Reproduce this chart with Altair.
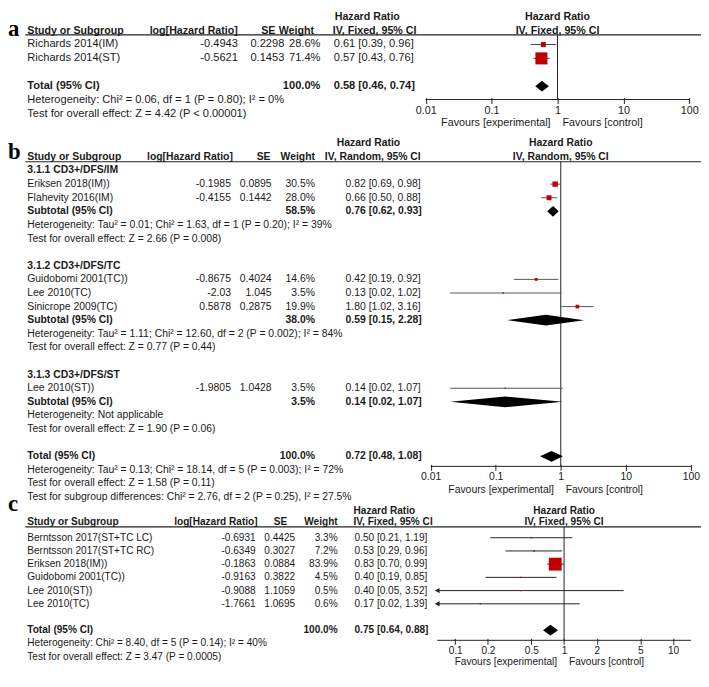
import altair as alt
import pandas as pd

# ---------------- data: panel a ----------------
A_STUDY = ["Richards 2014(IM)", "Richards 2014(ST)"]
A_LOGHR = ["-0.4943", "-0.5621"]
A_SE = ["0.2298", "0.1453"]
A_WEIGHT = [28.6, 71.4]
A_HR = [0.61, 0.57]
A_LO = [0.39, 0.43]
A_HI = [0.96, 0.76]
A_TOTAL_W = 100.0
A_TOTAL_CI = [0.58, 0.46, 0.74]
A_NOTES = ["Heterogeneity: Chi² = 0.06, df = 1 (P = 0.80); I² = 0%",
           "Test for overall effect: Z = 4.42 (P < 0.00001)"]
A_METHOD = "IV, Fixed, 95% CI"
A_TICKS = [0.01, 0.1, 1, 10, 100]

# ---------------- data: panel b ----------------
B_GROUPS = ["3.1.1 CD3+/DFS/IM", "3.1.2 CD3+/DFS/TC", "3.1.3 CD3+/DFS/ST"]
B_GROUP_OF = [0, 0, 1, 1, 1, 2]
B_STUDY = ["Eriksen 2018(IM))", "Flahevity 2016(IM)", "Guidobomi 2001(TC))",
           "Lee 2010(TC)", "Sinicrope 2009(TC)", "Lee 2010(ST))"]
B_LOGHR = ["-0.1985", "-0.4155", "-0.8675", "-2.03", "0.5878", "-1.9805"]
B_SE = ["0.0895", "0.1442", "0.4024", "1.045", "0.2875", "1.0428"]
B_WEIGHT = [30.5, 28.0, 14.6, 3.5, 19.9, 3.5]
B_HR = [0.82, 0.66, 0.42, 0.13, 1.80, 0.14]
B_LO = [0.69, 0.50, 0.19, 0.02, 1.02, 0.02]
B_HI = [0.98, 0.88, 0.92, 1.02, 3.16, 1.07]
B_SUB_W = [58.5, 38.0, 3.5]
B_SUB_HR = [0.76, 0.59, 0.14]
B_SUB_LO = [0.62, 0.15, 0.02]
B_SUB_HI = [0.93, 2.28, 1.07]
B_SUB_NOTES = [
    ["Heterogeneity: Tau² = 0.01; Chi² = 1.63, df = 1 (P = 0.20); I² = 39%",
     "Test for overall effect: Z = 2.66 (P = 0.008)"],
    ["Heterogeneity: Tau² = 1.11; Chi² = 12.60, df = 2 (P = 0.002); I² = 84%",
     "Test for overall effect: Z = 0.77 (P = 0.44)"],
    ["Heterogeneity: Not applicable",
     "Test for overall effect: Z = 1.90 (P = 0.06)"],
]
B_TOTAL_W = 100.0
B_TOTAL_CI = [0.72, 0.48, 1.08]
B_NOTES = ["Heterogeneity: Tau² = 0.13; Chi² = 18.14, df = 5 (P = 0.003); I² = 72%",
           "Test for overall effect: Z = 1.58 (P = 0.11)",
           "Test for subgroup differences: Chi² = 2.76, df = 2 (P = 0.25), I² = 27.5%"]
B_METHOD = "IV, Random, 95% CI"
B_TICKS = [0.01, 0.1, 1, 10, 100]

# ---------------- data: panel c ----------------
C_STUDY = ["Berntsson 2017(ST+TC LC)", "Berntsson 2017(ST+TC RC)", "Eriksen 2018(IM))",
           "Guidobomi 2001(TC))", "Lee 2010(ST))", "Lee 2010(TC)"]
C_LOGHR = ["-0.6931", "-0.6349", "-0.1863", "-0.9163", "-0.9088", "-1.7661"]
C_SE = ["0.4425", "0.3027", "0.0884", "0.3822", "1.1059", "1.0695"]
C_WEIGHT = [3.3, 7.2, 83.9, 4.5, 0.5, 0.6]
C_HR = [0.50, 0.53, 0.83, 0.40, 0.40, 0.17]
C_LO = [0.21, 0.29, 0.70, 0.19, 0.05, 0.02]
C_HI = [1.19, 0.96, 0.99, 0.85, 3.52, 1.39]
C_TOTAL_W = 100.0
C_TOTAL_CI = [0.75, 0.64, 0.88]
C_NOTES = ["Heterogeneity: Chi² = 8.40, df = 5 (P = 0.14); I² = 40%",
           "Test for overall effect: Z = 3.47 (P = 0.0005)"]
C_METHOD = "IV, Fixed, 95% CI"
C_TICKS = [0.1, 0.2, 0.5, 1, 2, 5, 10]

HEADERS = ["Study or Subgroup", "log[Hazard Ratio]", "SE", "Weight", "Hazard Ratio"]
FAVOURS = ["Favours [experimental]", "Favours [control]"]
LETTERS = ["a", "b", "c"]

# ---------------- style / layout ----------------
RED = "#c00000"
INK = "#1a1a1a"
FONT = "Liberation Sans"
SERIF = "Liberation Serif"
W, H = 701, 665
K = 663.0 / 682.0


def yr(v):
    return (v - 2.0) * K


def xr(v):
    return max(0.0, v - 7.5)


def build(study, loghr, se, weight, hr, lo, hi, total_w, total_ci, notes,
          groups=None, group_of=None, sub_w=None, sub_ci=None, sub_notes=None):
    T, S, D = [], [], []

    def add_study(i, r):
        T.append(dict(row=r, col="name", text=study[i], bold=False))
        T.append(dict(row=r, col="loghr", text=loghr[i], bold=False))
        T.append(dict(row=r, col="se", text=se[i], bold=False))
        T.append(dict(row=r, col="weight", text=f"{weight[i]:.1f}%", bold=False))
        T.append(dict(row=r, col="hr", text=f"{hr[i]:.2f} [{lo[i]:.2f}, {hi[i]:.2f}]", bold=False))
        S.append(dict(row=r, hr=hr[i], lo=lo[i], hi=hi[i], w=weight[i]))

    def add_pooled(label, w, ci, r, k):
        T.append(dict(row=r, col="name", text=label, bold=True))
        T.append(dict(row=r, col="weight", text=f"{w:.1f}%", bold=True))
        T.append(dict(row=r, col="hr", text=f"{ci[0]:.2f} [{ci[1]:.2f}, {ci[2]:.2f}]", bold=True))
        D.append(dict(id=k, row=r, hr=ci[0], lo=ci[1], hi=ci[2]))

    r = 1
    if groups is None:
        for i in range(len(study)):
            add_study(i, r)
            r += 1
        r += 1
    else:
        for g, gname in enumerate(groups):
            T.append(dict(row=r, col="name", text=gname, bold=True))
            r += 1
            for i in range(len(study)):
                if group_of[i] == g:
                    add_study(i, r)
                    r += 1
            add_pooled("Subtotal (95% CI)", sub_w[g], sub_ci[g], r, g)
            r += 1
            for n in sub_notes[g]:
                T.append(dict(row=r, col="name", text=n, bold=False))
                r += 1
            r += 1
    add_pooled("Total (95% CI)", total_w, total_ci, r, 99)
    r += 1
    for n in notes:
        T.append(dict(row=r, col="name", text=n, bold=False))
        r += 1
    return pd.DataFrame(T), pd.DataFrame(S), pd.DataFrame(D)


def panel(P, T, S, D, method, ticks, letter):
    o, s = P["o"], P["s"]

    def row(v):
        return (v - o) / s

    ysc = alt.Scale(domain=[0, 10], range=[yr(o), yr(o + 10 * s)], nice=False, zero=False)
    xsc = alt.Scale(type="log", domain=list(P["xdom"]),
                    range=[xr(P["xrng"][0]), xr(P["xrng"][1])], nice=False, clamp=True)
    ax = alt.Axis(orient="bottom", offset=yr(P["axis"]) - 2 - H, values=ticks, format="~g",
                  domain=False, ticks=True, tickSize=6, tickColor="#222", tickWidth=1,
                  labelFont=FONT, labelFontSize=P["afs"], labelColor=INK, labelPadding=1.5,
                  labelFlush=False, labelOverlap=False, grid=False, title=None)

    def Yf(f):
        return alt.Y(f, type="quantitative", scale=ysc, axis=None)

    def Yd(v):
        return alt.YDatum(v, type="quantitative", scale=ysc, axis=None)

    def Xd(v):
        return alt.XDatum(v, type="quantitative", scale=xsc, axis=ax)

    one = pd.DataFrame({"k": [0]})
    L = []
    fs = P["fs"]
    hfs = P["hfs"]

    # header rule
    L.append(alt.Chart(one).mark_rule(color="#222", strokeWidth=1.1).encode(
        x=alt.value(xr(25)), x2=alt.value(W), y=Yd(row(P["rule"]))))

    # table headers
    heads = [(HEADERS[0], "name", P["hdr2"]), (HEADERS[1], "loghr", P["hdr2"]),
             (HEADERS[2], "se", P["hdr2"]), (HEADERS[3], "weight", P["hdr2"]),
             (HEADERS[4], "hr1", P["hdr1"]), (method, "hr2", P["hdr2"])]
    for txt, key, yref in heads:
        hx, ha = P["heads"][key]
        L.append(alt.Chart(pd.DataFrame({"text": [txt]})).mark_text(
            align=ha, baseline="middle", font=FONT, fontSize=hfs, fontWeight="bold", color=INK
        ).encode(x=alt.value(xr(hx)), y=Yd(row(yref)), text="text:N"))

    # table body
    for col, (cx, ca) in P["cols"].items():
        for b in (False, True):
            sub = T[(T["col"] == col) & (T["bold"] == b)]
            if len(sub) == 0:
                continue
            L.append(alt.Chart(sub).mark_text(
                align=ca, baseline="middle", font=FONT, fontSize=fs,
                fontWeight="bold" if b else "normal", color=INK
            ).encode(x=alt.value(xr(cx)), y=Yf("row"), text="text:N"))

    # forest: axis line
    L.append(alt.Chart(one).mark_rule(color="#222", strokeWidth=1).encode(
        x=Xd(P["xdom"][0]), x2=alt.X2Datum(P["xdom"][1]), y=Yd(row(P["axis"]))))
    # null-effect line
    L.append(alt.Chart(one).mark_rule(color="#222", strokeWidth=1).encode(
        x=Xd(1), y=Yd(row(P["rule"])), y2=alt.Y2Datum(row(P["axis"]))))
    # confidence intervals
    L.append(alt.Chart(S).mark_rule(color=P["ci"], strokeWidth=1).encode(
        x=alt.X("lo:Q", scale=xsc, axis=ax), x2="hi:Q", y=Yf("row")))
    # arrows for intervals beyond the axis
    cut = S[S["lo"] < P["xdom"][0]]
    if len(cut):
        L.append(alt.Chart(cut).mark_point(shape="triangle-left", filled=True, color="#222",
                                            opacity=1, size=30).encode(
            x=alt.X("lo:Q", scale=xsc, axis=ax), y=Yf("row")))
    # study squares
    L.append(alt.Chart(S).mark_square(color=RED, filled=True, opacity=1).encode(
        x=alt.X("hr:Q", scale=xsc, axis=ax), y=Yf("row"),
        size=alt.Size("w:Q", scale=alt.Scale(type="pow", exponent=2, domain=[0, 100],
                                             range=[1.5, P["sq"] ** 2]), legend=None)))
    # pooled diamonds
    d = 5.6 / s
    pts = []
    for _, rr in D.iterrows():
        pts.append(dict(id=rr["id"], x=rr["lo"], ya=rr["row"], yb=rr["row"]))
        pts.append(dict(id=rr["id"], x=rr["hr"], ya=rr["row"] - d, yb=rr["row"] + d))
        pts.append(dict(id=rr["id"], x=rr["hi"], ya=rr["row"], yb=rr["row"]))
    L.append(alt.Chart(pd.DataFrame(pts)).mark_area(color="black", opacity=1).encode(
        x=alt.X("x:Q", scale=xsc, axis=ax), y=alt.Y("ya:Q", scale=ysc, axis=None),
        y2="yb:Q", detail="id:N"))
    # forest headers
    for txt, yref in ((HEADERS[4], P["hdr1"]), (method, P["hdr2"])):
        L.append(alt.Chart(pd.DataFrame({"text": [txt]})).mark_text(
            align="center", baseline="middle", font=FONT, fontSize=hfs, fontWeight="bold", color=INK
        ).encode(x=Xd(1), y=Yd(row(yref)), text="text:N"))
    # favours labels
    for txt, al, dx in ((FAVOURS[0], "right", -7), (FAVOURS[1], "left", 5)):
        L.append(alt.Chart(pd.DataFrame({"text": [txt]})).mark_text(
            align=al, dx=dx, baseline="middle", font=FONT, fontSize=P["afs"], color=INK
        ).encode(x=Xd(1), y=Yd(row(P["fav"])), text="text:N"))
    # panel letter
    L.append(alt.Chart(pd.DataFrame({"text": [letter]})).mark_text(
        align="left", baseline="alphabetic", font=SERIF, fontSize=23, fontWeight="bold", color="black"
    ).encode(x=alt.value(xr(P["letter_x"])), y=Yd(row(P["letter_base"])), text="text:N"))
    return alt.layer(*L)


PA = dict(o=21.6, s=14.45, hdr1=7.6, hdr2=21.8, rule=26, axis=93.3, fav=117.3,
          xrng=(430, 696.7), xdom=(0.01, 100), fs=11.2, hfs=10.8, afs=10.9,
          letter_x=3, letter_base=27,
          cols=dict(name=(27, "left"), loghr=(240, "right"), se=(287, "right"),
                    weight=(323.5, "right"), hr=(337, "left")),
          heads=dict(name=(27, "left"), loghr=(240, "right"), se=(278, "right"),
                     weight=(317, "right"), hr1=(338, "left"), hr2=(336, "left")),
          sq=17, ci="#444")
PB = dict(o=153, s=14.16, hdr1=139, hdr2=153, rule=158, axis=475, fav=499.3,
          xrng=(435, 698.3), xdom=(0.01, 100), fs=10.5, hfs=10.5, afs=10.5,
          letter_x=2, letter_base=155,
          cols=dict(name=(27, "left"), loghr=(233, "right"), se=(274, "right"),
                    weight=(318, "right"), hr=(349, "left")),
          heads=dict(name=(27, "left"), loghr=(235, "right"), se=(273, "right"),
                     weight=(318, "right"), hr1=(340, "left"), hr2=(328, "left")),
          sq=17.5, ci="#555")
PC = dict(o=535.5, s=13.75, hdr1=521, hdr2=533.3, rule=538, axis=656, fav=679,
          xrng=(441.7, 698.3), xdom=(0.0685, 14.6), fs=10.2, hfs=10.2, afs=10.2,
          letter_x=5, letter_base=521.7,
          cols=dict(name=(27, "left"), loghr=(258, "right"), se=(298, "right"),
                    weight=(341, "right"), hr=(358, "left")),
          heads=dict(name=(27, "left"), loghr=(260, "right"), se=(290, "right"),
                     weight=(341, "right"), hr1=(357, "left"), hr2=(357, "left")),
          sq=15.5, ci="#222")

TA, SA, DA = build(A_STUDY, A_LOGHR, A_SE, A_WEIGHT, A_HR, A_LO, A_HI, A_TOTAL_W, A_TOTAL_CI, A_NOTES)
TB, SB, DB = build(B_STUDY, B_LOGHR, B_SE, B_WEIGHT, B_HR, B_LO, B_HI, B_TOTAL_W, B_TOTAL_CI, B_NOTES,
                   groups=B_GROUPS, group_of=B_GROUP_OF, sub_w=B_SUB_W,
                   sub_ci=list(zip(B_SUB_HR, B_SUB_LO, B_SUB_HI)), sub_notes=B_SUB_NOTES)
TC, SC, DC = build(C_STUDY, C_LOGHR, C_SE, C_WEIGHT, C_HR, C_LO, C_HI, C_TOTAL_W, C_TOTAL_CI, C_NOTES)

chart = alt.layer(
    panel(PA, TA, SA, DA, A_METHOD, A_TICKS, LETTERS[0]),
    panel(PB, TB, SB, DB, B_METHOD, B_TICKS, LETTERS[1]),
    panel(PC, TC, SC, DC, C_METHOD, C_TICKS, LETTERS[2]),
).resolve_scale(
    x="independent", y="independent", size="independent"
).properties(
    width=W, height=H, padding=0, background="white",
    autosize=alt.AutoSizeParams(type="none"),
).configure_view(stroke=None)

chart.save("out.html", embed_options={"renderer": "svg", "actions": False})
